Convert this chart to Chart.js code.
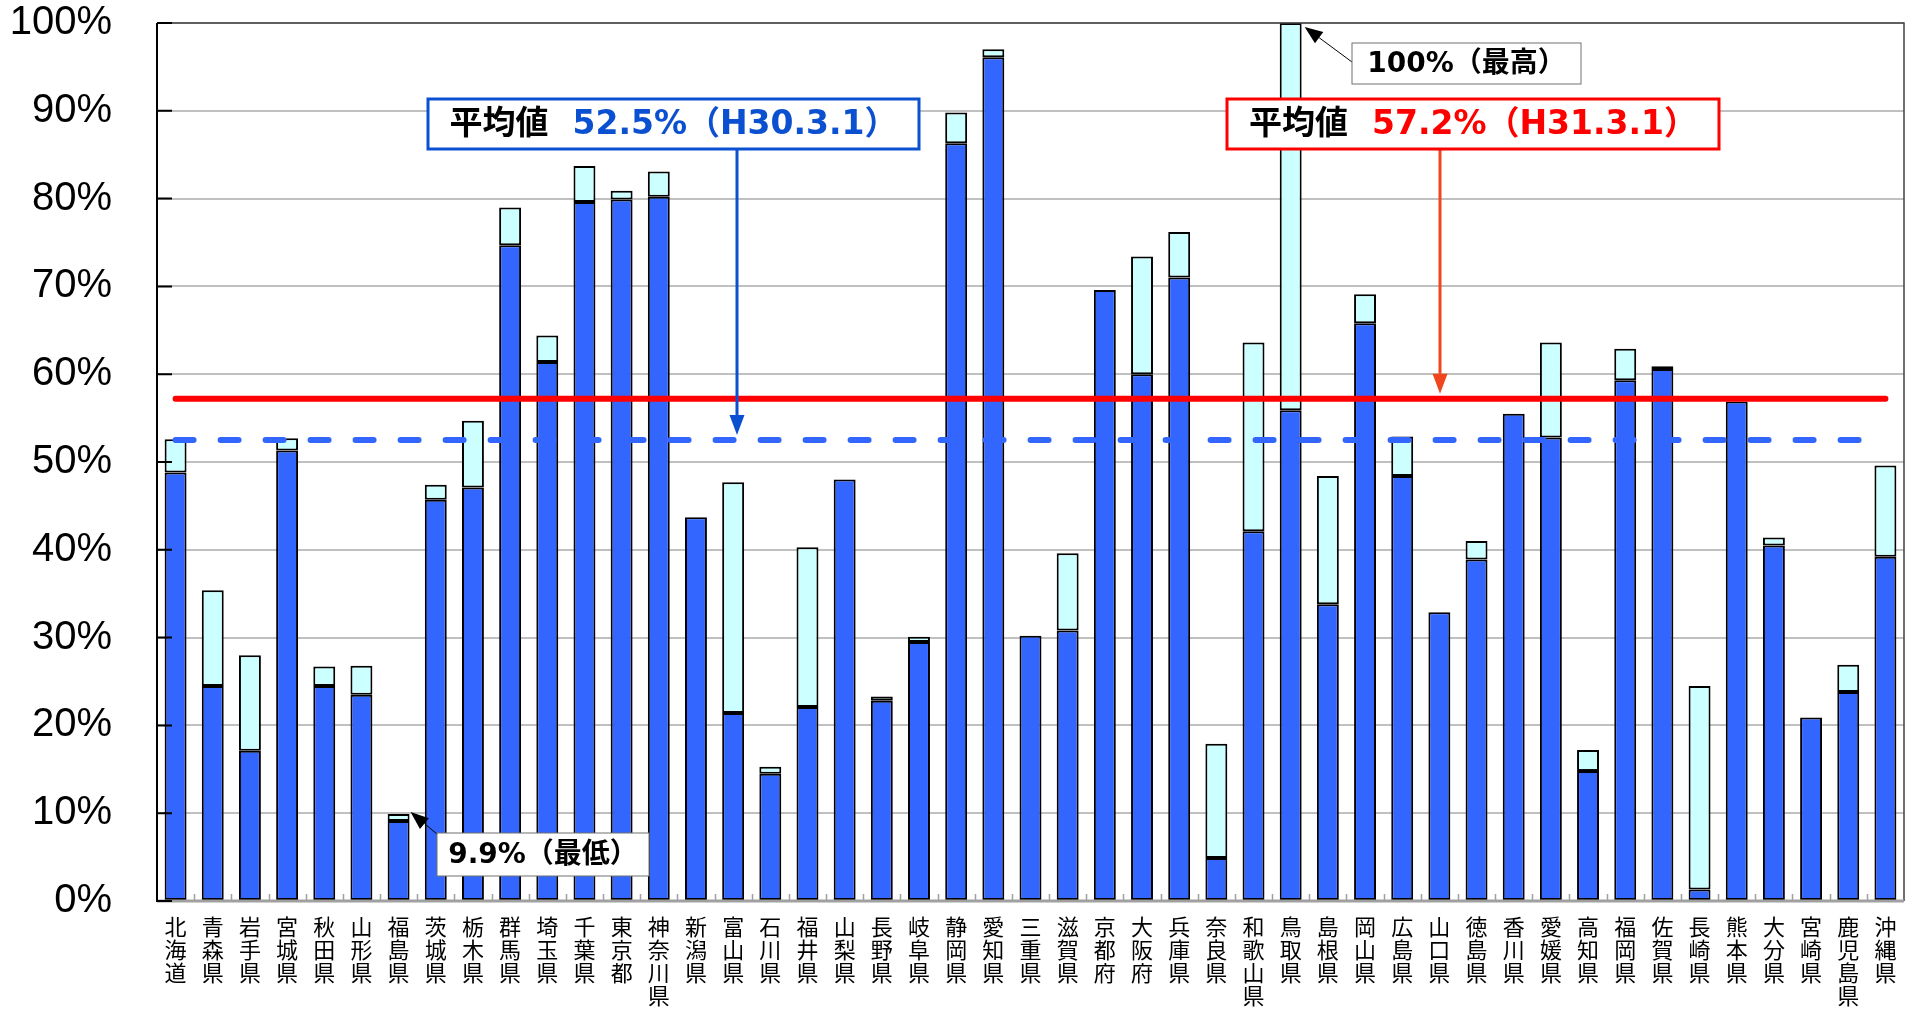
<!DOCTYPE html>
<html lang="ja">
<head>
<meta charset="utf-8">
<title>都道府県別 割合（H30.3.1 / H31.3.1）</title>
<script src="https://cdn.jsdelivr.net/npm/chart.js@4/dist/chart.umd.min.js"></script>
<style>
  html, body { margin: 0; padding: 0; background: #fff; }
  #wrap { width: 1919px; height: 1009px; }
</style>
</head>
<body>
<div id="wrap"><canvas id="rateChart" width="1919" height="1009"></canvas></div>
<script>
// values (%)
const prefectures = [
  '北海道', '青森県', '岩手県', '宮城県', '秋田県', '山形県', '福島県', '茨城県', '栃木県', '群馬県',
  '埼玉県', '千葉県', '東京都', '神奈川県', '新潟県', '富山県', '石川県', '福井県', '山梨県', '長野県',
  '岐阜県', '静岡県', '愛知県', '三重県', '滋賀県', '京都府', '大阪府', '兵庫県', '奈良県', '和歌山県',
  '鳥取県', '島根県', '岡山県', '広島県', '山口県', '徳島県', '香川県', '愛媛県', '高知県', '福岡県',
  '佐賀県', '長崎県', '熊本県', '大分県', '宮崎県', '鹿児島県', '沖縄県'
];

// H30.3.1 (blue part)
const rateH30 = [
  48.8, 24.5, 17.1, 51.3, 24.5, 23.5, 9.1, 45.7, 47.1, 74.7,
  61.4, 79.6, 79.9, 80.2, 43.7, 21.4, 14.5, 22.1, 48.0, 22.8,
  29.5, 86.3, 96.1, 30.2, 30.8, 69.6, 60.0, 71.0, 4.9, 42.1,
  55.9, 33.8, 65.8, 48.4, 32.9, 38.9, 55.5, 52.8, 14.8, 59.3,
  60.6, 1.3, 56.9, 40.5, 20.9, 23.8, 39.2
];

// H31.3.1 (top of the light part)
const rateH31 = [
  52.6, 35.4, 28.0, 52.7, 26.7, 26.8, 9.9, 47.4, 54.7, 79.0,
  64.4, 83.7, 80.9, 83.1, 43.7, 47.7, 15.3, 40.3, 48.0, 23.3,
  30.1, 89.8, 97.0, 30.2, 39.6, 69.6, 73.4, 76.2, 17.9, 63.6,
  100.0, 48.4, 69.1, 52.9, 32.9, 41.0, 55.5, 63.6, 17.2, 62.9,
  60.9, 24.5, 56.9, 41.4, 20.9, 26.9, 49.6
];

const avgH30 = 52.5;
const avgH31 = 57.2;
const yTicks = [0, 10, 20, 30, 40, 50, 60, 70, 80, 90, 100];

const BLUE = '#3366ff';
const CYAN = '#ccffff';
const NOTE_BLUE = '#0b50d0';

const firstPref = prefectures[0];
const lastPref = prefectures[prefectures.length - 1];
const increaseRange = prefectures.map((p, i) => [rateH30[i], rateH31[i]]);

function drawArrow(ctx, x1, y1, x2, y2, color, width, headLen, headW) {
  const ang = Math.atan2(y2 - y1, x2 - x1);
  const bx = x2 - headLen * Math.cos(ang);
  const by = y2 - headLen * Math.sin(ang);
  ctx.strokeStyle = color;
  ctx.fillStyle = color;
  ctx.lineWidth = width;
  ctx.beginPath();
  ctx.moveTo(x1, y1);
  ctx.lineTo(bx, by);
  ctx.stroke();
  ctx.beginPath();
  ctx.moveTo(x2, y2);
  ctx.lineTo(bx + headW / 2 * Math.sin(ang), by - headW / 2 * Math.cos(ang));
  ctx.lineTo(bx - headW / 2 * Math.sin(ang), by + headW / 2 * Math.cos(ang));
  ctx.closePath();
  ctx.fill();
}

// box with text parts [text, color], centered
function drawNote(ctx, box, parts, border, borderWidth, font, gap) {
  ctx.fillStyle = '#fff';
  ctx.fillRect(box.x, box.y, box.w, box.h);
  ctx.strokeStyle = border;
  ctx.lineWidth = borderWidth;
  ctx.strokeRect(box.x, box.y, box.w, box.h);
  ctx.font = font;
  ctx.textBaseline = 'middle';
  ctx.textAlign = 'left';
  const widths = parts.map(p => ctx.measureText(p[0]).width);
  const total = widths.reduce((a, b) => a + b, 0) + gap * (parts.length - 1);
  let tx = box.x + (box.w - total) / 2;
  parts.forEach((p, i) => {
    ctx.fillStyle = p[1];
    ctx.fillText(p[0], tx, box.y + box.h / 2 + 1);
    tx += widths[i] + gap;
  });
}

const framePlugin = {
  id: 'frame',
  afterDatasetsDraw(chart) {
    const { ctx, chartArea: a, scales: { x, y } } = chart;
    ctx.save();
    // top / right border
    ctx.strokeStyle = '#404040';
    ctx.lineWidth = 1.5;
    ctx.beginPath();
    ctx.moveTo(a.left, a.top);
    ctx.lineTo(a.right, a.top);
    ctx.lineTo(a.right, a.bottom);
    ctx.stroke();
    // bottom axis + small category ticks
    ctx.strokeStyle = '#a0a0a0';
    ctx.lineWidth = 3;
    ctx.beginPath();
    ctx.moveTo(a.left, a.bottom);
    ctx.lineTo(a.right, a.bottom);
    ctx.stroke();
    ctx.lineWidth = 1.5;
    const step = x.width / prefectures.length;
    ctx.beginPath();
    for (let i = 1; i < prefectures.length; i++) {
      const px = Math.round(a.left + i * step) + 0.5;
      ctx.moveTo(px, a.bottom);
      ctx.lineTo(px, a.bottom - 7);
    }
    ctx.stroke();
    // left axis with inner ticks
    ctx.strokeStyle = '#000';
    ctx.lineWidth = 2;
    ctx.beginPath();
    ctx.moveTo(a.left, a.top);
    ctx.lineTo(a.left, a.bottom + 1);
    y.ticks.forEach(t => {
      const py = y.getPixelForValue(t.value);
      ctx.moveTo(a.left, py);
      ctx.lineTo(a.left + 15, py);
    });
    ctx.stroke();
    ctx.restore();
  },
  afterDraw(chart) {
    const { ctx, scales: { y } } = chart;
    const tops = chart.getDatasetMeta(2).data; // H31 tops
    ctx.save();

    // average boxes with arrows
    drawArrow(ctx, 737, 149, 737, y.getPixelForValue(avgH30) - 5, NOTE_BLUE, 3, 20, 15);
    drawNote(ctx, { x: 428, y: 99, w: 491, h: 50 },
      [['平均値', '#000'], [avgH30.toFixed(1) + '%（H30.3.1）', NOTE_BLUE]],
      NOTE_BLUE, 3, "bold 33px 'DejaVu Sans', 'Noto Sans CJK JP'", 24);

    drawArrow(ctx, 1440, 149, 1440, y.getPixelForValue(avgH31) - 5, '#f0461e', 3, 20, 15);
    drawNote(ctx, { x: 1227, y: 99, w: 492, h: 50 },
      [['平均値', '#000'], [avgH31.toFixed(1) + '%（H31.3.1）', '#ff0000']],
      '#ff0000', 3, "bold 33px 'DejaVu Sans', 'Noto Sans CJK JP'", 24);

    // highest / lowest
    const hi = tops[30];
    drawArrow(ctx, 1352, 62, hi.x + hi.width / 2 + 3, hi.y + 4, '#000', 1, 18, 14);
    drawNote(ctx, { x: 1352, y: 43, w: 229, h: 41 },
      [['100%（最高）', '#000']], '#707070', 1, "bold 28px 'DejaVu Sans', 'Noto Sans CJK JP'", 0);

    const lo = tops[6];
    drawArrow(ctx, 437, 834, lo.x + lo.width / 2 + 1, lo.y - 2, '#000', 1, 18, 14);
    drawNote(ctx, { x: 437, y: 833, w: 212, h: 43 },
      [['9.9%（最低）', '#000']], '#707070', 1, "bold 28px 'DejaVu Sans', 'Noto Sans CJK JP'", 0);

    ctx.restore();
  }
};

const ctx = document.getElementById('rateChart').getContext('2d');
new Chart(ctx, {
  type: 'bar',
  data: {
    labels: prefectures,
    datasets: [
      {
        type: 'line',
        label: '平均値（H31.3.1）',
        data: [{ x: firstPref, y: avgH31 }, { x: lastPref, y: avgH31 }],
        borderColor: '#ff0000',
        borderWidth: 6,
        borderCapStyle: 'round',
        pointRadius: 0,
        fill: false,
        order: 0
      },
      {
        type: 'line',
        label: '平均値（H30.3.1）',
        data: [{ x: firstPref, y: avgH30 }, { x: lastPref, y: avgH30 }],
        borderColor: BLUE,
        borderWidth: 6,
        borderDash: [18, 27],
        borderCapStyle: 'round',
        pointRadius: 0,
        fill: false,
        order: 1
      },
      {
        label: 'H31.3.1',
        data: increaseRange,
        backgroundColor: CYAN,
        borderColor: '#000',
        borderWidth: 2,
        borderSkipped: false,
        grouped: false,
        barPercentage: 0.59,
        categoryPercentage: 1,
        order: 2
      },
      {
        label: 'H30.3.1',
        data: rateH30,
        backgroundColor: BLUE,
        borderColor: '#000',
        borderWidth: 2,
        borderSkipped: false,
        grouped: false,
        barPercentage: 0.59,
        categoryPercentage: 1,
        order: 3
      }
    ]
  },
  options: {
    responsive: false,
    animation: false,
    devicePixelRatio: 1,
    layout: { padding: { top: 23, right: 15, left: 0, bottom: 0 } },
    plugins: {
      legend: { display: false },
      tooltip: { enabled: false }
    },
    scales: {
      x: {
        grid: { display: false, drawTicks: false },
        border: { display: false },
        ticks: {
          autoSkip: false,
          maxRotation: 0,
          minRotation: 0,
          padding: 14,
          color: '#000',
          font: { family: "'Noto Sans CJK JP'", size: 22, lineHeight: 1.05 },
          callback: function (v) { return Array.from(this.getLabelForValue(v)); }
        },
        afterFit: s => { s.height = 108; }
      },
      y: {
        min: 0,
        max: 100,
        afterBuildTicks: s => { s.ticks = yTicks.map(v => ({ value: v })); },
        ticks: {
          padding: 45,
          color: '#000',
          font: { family: "'Liberation Sans'", size: 40 },
          callback: v => v + '%'
        },
        grid: { color: '#c0c0c0', lineWidth: 2, drawTicks: false },
        border: { display: false },
        afterFit: s => {
          s.width = 157;
          s.paddingTop = 0;
          s.paddingBottom = 0;
        }
      }
    }
  },
  plugins: [framePlugin]
});
</script>
</body>
</html>
